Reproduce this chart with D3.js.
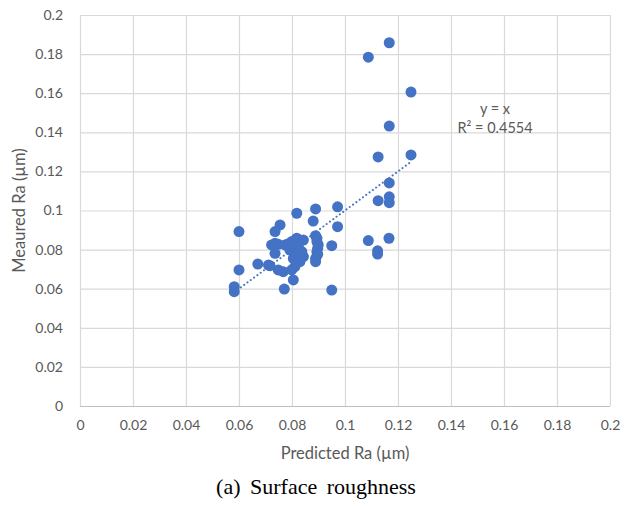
<!DOCTYPE html>
<html>
<head>
<meta charset="utf-8">
<script src="https://cdn.jsdelivr.net/npm/d3@7"></script>
<style>
  body { margin: 0; background: #fff; }
  svg { display: block; }
</style>
</head>
<body>
<svg id="chart"></svg>
<script>
var predicted = [
  0.1088, 0.1167, 0.1249, 0.1167, 0.1125, 0.1249, 0.1167, 0.1167, 0.1167, 0.1125,
  0.1088, 0.1166, 0.1123, 0.1123,
  0.0972, 0.0889, 0.0818, 0.0880, 0.0972, 0.0755, 0.0736, 0.0600, 0.0950,
  0.0889, 0.0894, 0.0894, 0.0899, 0.0897, 0.0894, 0.0897, 0.0889, 0.0889,
  0.0723, 0.0736, 0.0748, 0.0774, 0.0799, 0.0818, 0.0843, 0.0736, 0.0792, 0.0837,
  0.0843, 0.0830, 0.0811, 0.0799, 0.0767, 0.0748, 0.0805, 0.0717, 0.0671, 0.0600,
  0.0582, 0.0582, 0.0771, 0.0805, 0.0950, 0.0711, 0.0786, 0.0811, 0.0825, 0.0820
];
var measured = [
  0.1784, 0.1858, 0.1606, 0.1432, 0.1274, 0.1284, 0.1141, 0.1070, 0.1040, 0.1050,
  0.0846, 0.0858, 0.0794, 0.0777,
  0.1019, 0.1008, 0.0986, 0.0946, 0.0917, 0.0926, 0.0892, 0.0892, 0.0820,
  0.0871, 0.0858, 0.0841, 0.0824, 0.0807, 0.0789, 0.0776, 0.0755, 0.0738,
  0.0824, 0.0832, 0.0827, 0.0824, 0.0841, 0.0858, 0.0849, 0.0781, 0.0798, 0.0789,
  0.0764, 0.0738, 0.0713, 0.0696, 0.0687, 0.0696, 0.0755, 0.0718, 0.0726, 0.0696,
  0.0610, 0.0585, 0.0598, 0.0645, 0.0593, 0.0721, 0.0830, 0.0820, 0.0810, 0.0780
];
var ticks = [0, 0.02, 0.04, 0.06, 0.08, 0.1, 0.12, 0.14, 0.16, 0.18, 0.2];
var trendLabel = ["y = x", "R\u00b2 = 0.4554"];

var width = 633, height = 507;
var plotLeft = 80, plotRight = 610, plotTop = 15, plotBottom = 406;

var svg = d3.select("#chart").attr("width", width).attr("height", height);

var x = d3.scaleLinear().domain([0, 0.2]).range([plotLeft, plotRight]);
var y = d3.scaleLinear().domain([0, 0.2]).range([plotBottom, plotTop]);

var fmt = function(d) { return d3.format("~g")(d); };

// gridlines
svg.append("g").selectAll("line")
  .data(ticks)
  .enter().append("line")
  .attr("x1", function(d) { return x(d) + 0.5; })
  .attr("x2", function(d) { return x(d) + 0.5; })
  .attr("y1", plotTop).attr("y2", plotBottom)
  .attr("stroke", "#d9d9d9").attr("stroke-width", 1.2);

svg.append("g").selectAll("line")
  .data(ticks)
  .enter().append("line")
  .attr("y1", function(d) { return y(d) + 0.5; })
  .attr("y2", function(d) { return y(d) + 0.5; })
  .attr("x1", plotLeft).attr("x2", plotRight)
  .attr("stroke", function(d) { return d == 0 ? "#bfbfbf" : "#d9d9d9"; })
  .attr("stroke-width", 1.2);

// axes (labels only)
var xAxis = svg.append("g")
  .attr("transform", "translate(0," + (plotBottom + 8) + ")")
  .call(d3.axisBottom(x).tickValues(ticks).tickFormat(fmt).tickSize(0));
var yAxis = svg.append("g")
  .attr("transform", "translate(" + (plotLeft - 14) + ",0)")
  .call(d3.axisLeft(y).tickValues(ticks).tickFormat(fmt).tickSize(0));

[xAxis, yAxis].forEach(function(a) {
  a.select(".domain").remove();
  a.selectAll("text")
    .style("font-family", "Lato, 'Open Sans', sans-serif")
    .style("font-size", "14px")
    .attr("fill", "#595959");
});
xAxis.selectAll("text").attr("dy", "0.95em");

// points
var data = predicted.map(function(p, i) { return { p: p, m: measured[i] }; });

svg.append("g").selectAll("circle")
  .data(data)
  .enter().append("circle")
  .attr("cx", function(d) { return x(d.p); })
  .attr("cy", function(d) { return y(d.m); })
  .attr("r", 5.5)
  .attr("fill", "#4472c4");

// y = x trendline over the data range
var xmin = d3.min(predicted), xmax = d3.max(predicted);
svg.append("line")
  .attr("x1", x(xmin)).attr("y1", y(xmin))
  .attr("x2", x(xmax)).attr("y2", y(xmax))
  .attr("stroke", "#4472c4")
  .attr("stroke-width", 2)
  .attr("stroke-linecap", "round")
  .attr("stroke-dasharray", "0.1,4");

svg.append("g").selectAll("text")
  .data(trendLabel)
  .enter().append("text")
  .attr("x", 495)
  .attr("y", function(d, i) { return 114 + i * 19; })
  .attr("text-anchor", "middle")
  .style("font-family", "Lato, 'Open Sans', sans-serif")
  .style("font-size", "14.5px")
  .attr("fill", "#595959")
  .text(function(d) { return d; });

// axis titles
svg.append("text")
  .attr("x", (plotLeft + plotRight) / 2)
  .attr("y", 459)
  .attr("text-anchor", "middle")
  .style("font-family", "Lato, 'Open Sans', sans-serif")
  .style("font-size", "16.5px")
  .attr("fill", "#595959")
  .text("Predicted Ra (\u00b5m)");

svg.append("text")
  .attr("transform", "translate(25," + ((plotTop + plotBottom) / 2) + ") rotate(-90)")
  .attr("text-anchor", "middle")
  .style("font-family", "Lato, 'Open Sans', sans-serif")
  .style("font-size", "16.5px")
  .attr("fill", "#595959")
  .text("Meaured Ra (\u00b5m)");

// caption
svg.append("text")
  .attr("x", 316)
  .attr("y", 494)
  .attr("text-anchor", "middle")
  .style("font-family", "'Liberation Serif', 'DejaVu Serif', serif")
  .style("font-size", "22px")
  .style("word-spacing", "4px")
  .attr("fill", "#000")
  .text("(a) Surface roughness");
</script>
</body>
</html>
